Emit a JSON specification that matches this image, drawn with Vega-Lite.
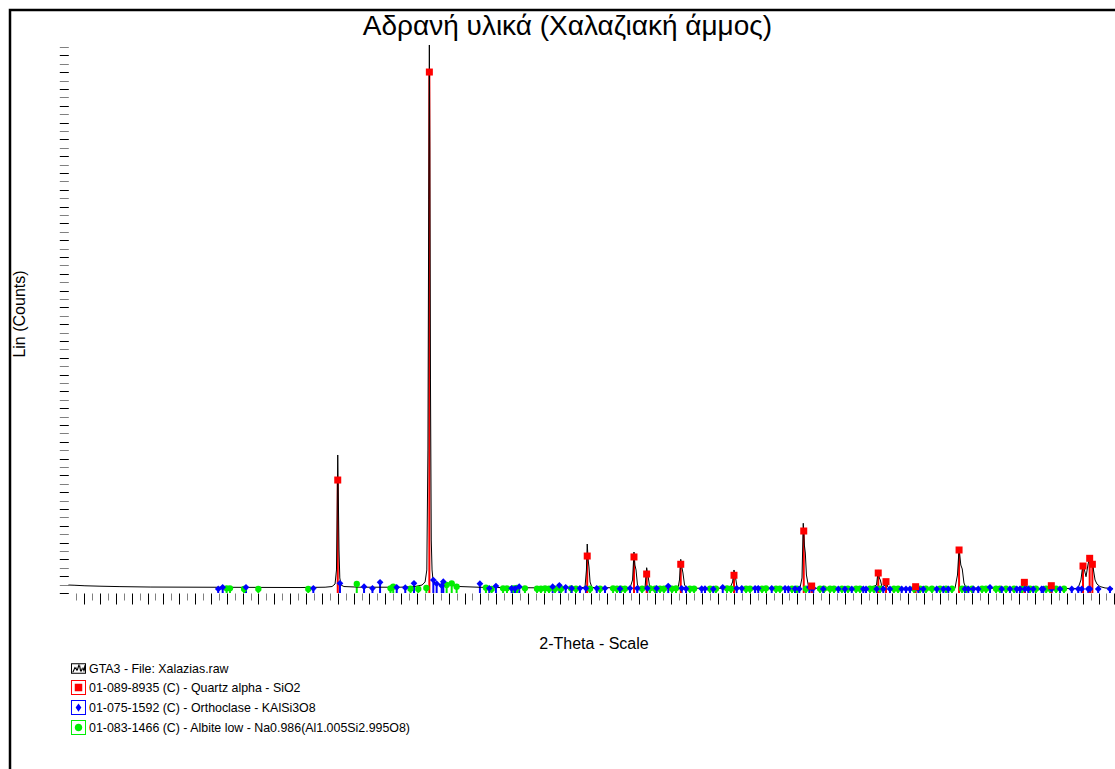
{
  "$schema": "https://vega.github.io/schema/vega-lite/v6.json",
  "width": 1115,
  "height": 770,
  "autosize": "none",
  "padding": {"left": 10, "top": 10, "right": 0, "bottom": 0},
  "background": "white",
  "title": {
    "text": "Αδρανή υλικά (Χαλαζιακή άμμος)",
    "font": "Liberation Sans",
    "fontSize": 28,
    "fontWeight": "normal",
    "color": "black",
    "anchor": "middle",
    "frame": "group",
    "baseline": "alphabetic",
    "offset": -53
  },
  "config": {
    "font": "Liberation Sans",
    "view": {"stroke": "black", "strokeWidth": 2.5}
  },
  "datasets": {
    "pattern": [
      {"theta": 4.01, "counts": 95}, {"theta": 4.42, "counts": 92}, {"theta": 5.05, "counts": 86},
      {"theta": 6.0, "counts": 81}, {"theta": 7.26, "counts": 76}, {"theta": 9.16, "counts": 71},
      {"theta": 12.31, "counts": 69}, {"theta": 15.46, "counts": 67}, {"theta": 18.62, "counts": 65},
      {"theta": 20.2, "counts": 69}, {"theta": 20.64, "counts": 77}, {"theta": 20.83, "counts": 107},
      {"theta": 20.92, "counts": 274}, {"theta": 20.97, "counts": 1107}, {"theta": 21.0, "counts": 1643},
      {"theta": 21.04, "counts": 1107}, {"theta": 21.08, "counts": 512}, {"theta": 21.13, "counts": 179},
      {"theta": 21.21, "counts": 95}, {"theta": 21.39, "counts": 77}, {"theta": 22.4, "counts": 69},
      {"theta": 24.93, "counts": 69}, {"theta": 25.87, "counts": 77}, {"theta": 26.32, "counts": 95},
      {"theta": 26.51, "counts": 131}, {"theta": 26.62, "counts": 274}, {"theta": 26.69, "counts": 1702},
      {"theta": 26.74, "counts": 4679}, {"theta": 26.78, "counts": 6524}, {"theta": 26.81, "counts": 5274},
      {"theta": 26.85, "counts": 2536}, {"theta": 26.9, "counts": 631}, {"theta": 26.95, "counts": 274},
      {"theta": 27.01, "counts": 155}, {"theta": 27.14, "counts": 119}, {"theta": 27.45, "counts": 101},
      {"theta": 27.77, "counts": 95}, {"theta": 27.96, "counts": 113}, {"theta": 28.21, "counts": 89},
      {"theta": 28.71, "counts": 77}, {"theta": 29.98, "counts": 68}, {"theta": 32.5, "counts": 63},
      {"theta": 35.02, "counts": 60}, {"theta": 36.28, "counts": 60}, {"theta": 36.6, "counts": 71},
      {"theta": 36.69, "counts": 274}, {"theta": 36.74, "counts": 583}, {"theta": 36.8, "counts": 393},
      {"theta": 36.85, "counts": 310}, {"theta": 36.92, "counts": 131}, {"theta": 37.04, "counts": 65},
      {"theta": 39.44, "counts": 60}, {"theta": 39.6, "counts": 155}, {"theta": 39.69, "counts": 488},
      {"theta": 39.75, "counts": 333}, {"theta": 39.82, "counts": 274}, {"theta": 39.91, "counts": 95},
      {"theta": 40.07, "counts": 60}, {"theta": 40.39, "counts": 71}, {"theta": 40.49, "counts": 301},
      {"theta": 40.57, "counts": 214}, {"theta": 40.67, "counts": 83}, {"theta": 40.83, "counts": 57},
      {"theta": 42.47, "counts": 60}, {"theta": 42.56, "counts": 155}, {"theta": 42.64, "counts": 401},
      {"theta": 42.72, "counts": 298}, {"theta": 42.78, "counts": 238}, {"theta": 42.88, "counts": 95},
      {"theta": 43.04, "counts": 57}, {"theta": 45.75, "counts": 56}, {"theta": 45.91, "counts": 131},
      {"theta": 46.0, "counts": 274}, {"theta": 46.1, "counts": 179}, {"theta": 46.19, "counts": 71},
      {"theta": 46.38, "counts": 56}, {"theta": 50.16, "counts": 56}, {"theta": 50.29, "counts": 179},
      {"theta": 50.37, "counts": 830}, {"theta": 50.44, "counts": 571}, {"theta": 50.5, "counts": 476},
      {"theta": 50.57, "counts": 214}, {"theta": 50.7, "counts": 77}, {"theta": 50.92, "counts": 77},
      {"theta": 51.11, "counts": 56}, {"theta": 54.58, "counts": 54}, {"theta": 54.99, "counts": 95},
      {"theta": 55.1, "counts": 274}, {"theta": 55.17, "counts": 179}, {"theta": 55.23, "counts": 155},
      {"theta": 55.34, "counts": 71}, {"theta": 55.53, "counts": 95}, {"theta": 55.62, "counts": 119},
      {"theta": 55.72, "counts": 65}, {"theta": 55.97, "counts": 54}, {"theta": 57.36, "counts": 54},
      {"theta": 57.46, "counts": 77}, {"theta": 57.61, "counts": 54}, {"theta": 59.94, "counts": 54},
      {"theta": 60.1, "counts": 214}, {"theta": 60.2, "counts": 532}, {"theta": 60.31, "counts": 333},
      {"theta": 60.4, "counts": 286}, {"theta": 60.51, "counts": 119}, {"theta": 60.64, "counts": 60},
      {"theta": 64.04, "counts": 54}, {"theta": 64.23, "counts": 95}, {"theta": 64.33, "counts": 131},
      {"theta": 64.45, "counts": 77}, {"theta": 64.68, "counts": 54}, {"theta": 65.87, "counts": 54},
      {"theta": 66.02, "counts": 87}, {"theta": 66.19, "counts": 54}, {"theta": 67.7, "counts": 54},
      {"theta": 67.89, "counts": 155}, {"theta": 68.02, "counts": 353}, {"theta": 68.11, "counts": 274},
      {"theta": 68.21, "counts": 194}, {"theta": 68.33, "counts": 333}, {"theta": 68.44, "counts": 432},
      {"theta": 68.52, "counts": 369}, {"theta": 68.61, "counts": 401}, {"theta": 68.68, "counts": 274},
      {"theta": 68.78, "counts": 155}, {"theta": 68.9, "counts": 107}, {"theta": 69.09, "counts": 77},
      {"theta": 69.41, "counts": 60}, {"theta": 69.91, "counts": 54}
    ],
    "quartz": [
      {"theta": 21.0, "counts": 1345}, {"theta": 26.78, "counts": 6202}, {"theta": 36.74, "counts": 440},
      {"theta": 39.69, "counts": 429}, {"theta": 40.49, "counts": 226}, {"theta": 42.64, "counts": 342},
      {"theta": 46.0, "counts": 211}, {"theta": 50.4, "counts": 738}, {"theta": 50.9, "counts": 83},
      {"theta": 55.1, "counts": 238}, {"theta": 55.59, "counts": 135}, {"theta": 57.46, "counts": 75},
      {"theta": 60.2, "counts": 512}, {"theta": 64.32, "counts": 127}, {"theta": 66.02, "counts": 87},
      {"theta": 68.02, "counts": 321}, {"theta": 68.44, "counts": 413}, {"theta": 68.61, "counts": 342}
    ],
    "orthoclase": [
      {"theta": 13.46, "counts": 48}, {"theta": 13.74, "counts": 68}, {"theta": 15.21, "counts": 68},
      {"theta": 19.46, "counts": 56}, {"theta": 21.14, "counts": 115}, {"theta": 22.66, "counts": 75},
      {"theta": 23.19, "counts": 56}, {"theta": 23.67, "counts": 127}, {"theta": 24.72, "counts": 68},
      {"theta": 25.26, "counts": 63}, {"theta": 25.81, "counts": 115}, {"theta": 27.03, "counts": 155},
      {"theta": 27.24, "counts": 111}, {"theta": 27.56, "counts": 87}, {"theta": 27.66, "counts": 135},
      {"theta": 29.97, "counts": 111}, {"theta": 30.56, "counts": 56}, {"theta": 30.98, "counts": 83},
      {"theta": 31.97, "counts": 56}, {"theta": 32.18, "counts": 51}, {"theta": 32.45, "counts": 75},
      {"theta": 34.56, "counts": 75}, {"theta": 34.98, "counts": 92}, {"theta": 35.38, "counts": 68},
      {"theta": 35.76, "counts": 56}, {"theta": 36.28, "counts": 56}, {"theta": 36.66, "counts": 56},
      {"theta": 37.34, "counts": 56}, {"theta": 37.86, "counts": 56}, {"theta": 38.81, "counts": 51},
      {"theta": 39.44, "counts": 56}, {"theta": 39.9, "counts": 56}, {"theta": 40.53, "counts": 56},
      {"theta": 41.12, "counts": 56}, {"theta": 41.85, "counts": 83}, {"theta": 42.7, "counts": 56},
      {"theta": 42.97, "counts": 51}, {"theta": 43.96, "counts": 51}, {"theta": 44.17, "counts": 51},
      {"theta": 44.69, "counts": 48}, {"theta": 45.29, "counts": 68}, {"theta": 46.17, "counts": 56},
      {"theta": 46.49, "counts": 56}, {"theta": 47.33, "counts": 56}, {"theta": 47.53, "counts": 56},
      {"theta": 48.38, "counts": 56}, {"theta": 49.22, "counts": 56}, {"theta": 49.43, "counts": 51},
      {"theta": 49.85, "counts": 51}, {"theta": 50.12, "counts": 48}, {"theta": 50.75, "counts": 68},
      {"theta": 50.9, "counts": 56}, {"theta": 51.0, "counts": 56}, {"theta": 51.63, "counts": 48},
      {"theta": 52.58, "counts": 48}, {"theta": 53.0, "counts": 48}, {"theta": 53.43, "counts": 48},
      {"theta": 54.16, "counts": 48}, {"theta": 54.33, "counts": 48}, {"theta": 55.0, "counts": 48},
      {"theta": 55.42, "counts": 48}, {"theta": 55.84, "counts": 48}, {"theta": 56.58, "counts": 48},
      {"theta": 56.85, "counts": 48}, {"theta": 57.1, "counts": 48}, {"theta": 57.63, "counts": 48},
      {"theta": 57.94, "counts": 48}, {"theta": 58.79, "counts": 48}, {"theta": 59.21, "counts": 48},
      {"theta": 59.52, "counts": 48}, {"theta": 60.57, "counts": 48}, {"theta": 60.78, "counts": 48},
      {"theta": 61.1, "counts": 48}, {"theta": 61.41, "counts": 48}, {"theta": 62.15, "counts": 68},
      {"theta": 62.89, "counts": 48}, {"theta": 63.41, "counts": 48}, {"theta": 63.84, "counts": 48},
      {"theta": 64.04, "counts": 48}, {"theta": 64.36, "counts": 48}, {"theta": 64.57, "counts": 48},
      {"theta": 64.88, "counts": 48}, {"theta": 65.41, "counts": 48}, {"theta": 65.51, "counts": 48},
      {"theta": 66.04, "counts": 48}, {"theta": 66.57, "counts": 48}, {"theta": 67.31, "counts": 48},
      {"theta": 67.72, "counts": 48}, {"theta": 67.94, "counts": 48}, {"theta": 68.35, "counts": 48},
      {"theta": 68.46, "counts": 48}, {"theta": 68.98, "counts": 48}, {"theta": 69.72, "counts": 48}
    ],
    "albite": [
      {"theta": 13.99, "counts": 56}, {"theta": 14.2, "counts": 56}, {"theta": 15.09, "counts": 48},
      {"theta": 15.99, "counts": 48}, {"theta": 19.14, "counts": 48}, {"theta": 22.2, "counts": 107},
      {"theta": 24.33, "counts": 56}, {"theta": 24.5, "counts": 75}, {"theta": 25.59, "counts": 51},
      {"theta": 26.08, "counts": 48}, {"theta": 26.59, "counts": 60}, {"theta": 27.87, "counts": 95},
      {"theta": 28.19, "counts": 115}, {"theta": 28.5, "counts": 75}, {"theta": 30.35, "counts": 63},
      {"theta": 30.71, "counts": 48}, {"theta": 31.43, "counts": 56}, {"theta": 31.68, "counts": 56},
      {"theta": 32.06, "counts": 56}, {"theta": 32.31, "counts": 60}, {"theta": 32.81, "counts": 56},
      {"theta": 33.57, "counts": 51}, {"theta": 33.82, "counts": 51}, {"theta": 34.08, "counts": 56},
      {"theta": 34.33, "counts": 51}, {"theta": 34.71, "counts": 51}, {"theta": 35.09, "counts": 51},
      {"theta": 35.72, "counts": 56}, {"theta": 36.03, "counts": 51}, {"theta": 36.92, "counts": 51},
      {"theta": 37.55, "counts": 51}, {"theta": 38.37, "counts": 56}, {"theta": 38.62, "counts": 51},
      {"theta": 38.87, "counts": 51}, {"theta": 39.12, "counts": 51}, {"theta": 40.2, "counts": 51},
      {"theta": 40.7, "counts": 56}, {"theta": 41.02, "counts": 51}, {"theta": 41.33, "counts": 51},
      {"theta": 41.58, "counts": 51}, {"theta": 42.09, "counts": 51}, {"theta": 42.34, "counts": 56},
      {"theta": 43.22, "counts": 51}, {"theta": 43.48, "counts": 51}, {"theta": 44.49, "counts": 51},
      {"theta": 44.86, "counts": 51}, {"theta": 45.56, "counts": 56}, {"theta": 45.81, "counts": 51},
      {"theta": 46.76, "counts": 51}, {"theta": 47.01, "counts": 51}, {"theta": 47.77, "counts": 51},
      {"theta": 48.02, "counts": 56}, {"theta": 48.65, "counts": 51}, {"theta": 48.9, "counts": 51},
      {"theta": 49.66, "counts": 51}, {"theta": 49.97, "counts": 51}, {"theta": 50.54, "counts": 51},
      {"theta": 51.43, "counts": 51}, {"theta": 51.68, "counts": 51}, {"theta": 52.06, "counts": 51},
      {"theta": 52.31, "counts": 51}, {"theta": 52.81, "counts": 51}, {"theta": 53.19, "counts": 51},
      {"theta": 53.7, "counts": 51}, {"theta": 53.95, "counts": 51}, {"theta": 54.58, "counts": 51},
      {"theta": 54.83, "counts": 51}, {"theta": 55.21, "counts": 51}, {"theta": 56.09, "counts": 51},
      {"theta": 56.35, "counts": 51}, {"theta": 57.36, "counts": 51}, {"theta": 57.74, "counts": 51},
      {"theta": 58.11, "counts": 51}, {"theta": 58.49, "counts": 51}, {"theta": 59.0, "counts": 51},
      {"theta": 59.38, "counts": 51}, {"theta": 59.75, "counts": 51}, {"theta": 60.39, "counts": 51},
      {"theta": 60.64, "counts": 51}, {"theta": 61.02, "counts": 51}, {"theta": 61.65, "counts": 51},
      {"theta": 61.9, "counts": 51}, {"theta": 62.53, "counts": 51}, {"theta": 62.78, "counts": 51},
      {"theta": 63.16, "counts": 51}, {"theta": 63.67, "counts": 51}, {"theta": 64.17, "counts": 51},
      {"theta": 64.68, "counts": 51}, {"theta": 65.05, "counts": 51}, {"theta": 65.69, "counts": 51},
      {"theta": 65.94, "counts": 51}, {"theta": 66.32, "counts": 51}, {"theta": 66.82, "counts": 51}
    ],
    "phases": [
      {"phase": "GTA3 - File: Xalazias.raw"},
      {"phase": "01-089-8935 (C) - Quartz alpha - SiO2"},
      {"phase": "01-075-1592 (C) - Orthoclase - KAlSi3O8"},
      {"phase": "01-083-1466 (C) - Albite low - Na0.986(Al1.005Si2.995O8)"}
    ]
  },
  "encoding": {
    "x": {
      "field": "theta",
      "type": "quantitative",
      "scale": {"domain": [0.322, 70.669], "nice": false, "zero": false},
      "axis": {
        "orient": "bottom",
        "offset": -187,
        "domain": false,
        "grid": false,
        "labels": false,
        "values": [4.5,5,5.5,6,6.5,7,7.5,8,8.5,9,9.5,10,10.5,11,11.5,12,12.5,13,13.5,14,14.5,15,15.5,16,16.5,17,17.5,18,18.5,19,19.5,20,20.5,21,21.5,22,22.5,23,23.5,24,24.5,25,25.5,26,26.5,27,27.5,28,28.5,29,29.5,30,30.5,31,31.5,32,32.5,33,33.5,34,34.5,35,35.5,36,36.5,37,37.5,38,38.5,39,39.5,40,40.5,41,41.5,42,42.5,43,43.5,44,44.5,45,45.5,46,46.5,47,47.5,48,48.5,49,49.5,50,50.5,51,51.5,52,52.5,53,53.5,54,54.5,55,55.5,56,56.5,57,57.5,58,58.5,59,59.5,60,60.5,61,61.5,62,62.5,63,63.5,64,64.5,65,65.5,66,66.5,67,67.5,68,68.5,69,69.5,70],
        "tickSize": {"condition": {"test": "datum.value % 1 === 0", "value": 11}, "value": 7},
        "tickColor": {"condition": {"test": "datum.value % 1 === 0", "value": "#000000"}, "value": "#808080"},
        "tickWidth": 1,
        "title": "2-Theta - Scale",
        "titleFont": "Liberation Sans",
        "titleFontSize": 16,
        "titleFontWeight": "normal",
        "titleColor": "black",
        "titleX": 583.5,
        "titleY": 55.3,
        "titleAlign": "center",
        "titleBaseline": "alphabetic"
      }
    },
    "y": {
      "field": "counts",
      "type": "quantitative",
      "scale": {"domain": [-2226.2, 6940.5], "nice": false, "zero": false},
      "axis": {
        "orient": "left",
        "offset": -58.3,
        "domain": false,
        "grid": false,
        "labels": false,
        "values": [0,100,200,300,400,500,600,700,800,900,1000,1100,1200,1300,1400,1500,1600,1700,1800,1900,2000,2100,2200,2300,2400,2500,2600,2700,2800,2900,3000,3100,3200,3300,3400,3500,3600,3700,3800,3900,4000,4100,4200,4300,4400,4500,4600,4700,4800,4900,5000,5100,5200,5300,5400,5500,5600,5700,5800,5900,6000,6100,6200,6300,6400,6500],
        "tickSize": 9,
        "tickColor": {"condition": {"test": "datum.value % 200 === 0", "value": "#000000"}, "value": "#808080"},
        "tickWidth": 1,
        "title": "Lin (Counts)",
        "titleFont": "Liberation Sans",
        "titleFontSize": 16,
        "titleFontWeight": "normal",
        "titleColor": "black",
        "titleAngle": -90,
        "titleX": -43.8,
        "titleY": 303.5,
        "titleAlign": "center",
        "titleBaseline": "alphabetic"
      }
    }
  },
  "layer": [
    {
      "data": {"name": "albite"},
      "mark": {"type": "rule", "color": "#00ee00", "strokeWidth": 2},
      "encoding": {"y2": {"datum": 0}}
    },
    {
      "data": {"name": "orthoclase"},
      "mark": {"type": "rule", "color": "#0000ff", "strokeWidth": 2},
      "encoding": {"y2": {"datum": 0}}
    },
    {
      "data": {"name": "quartz"},
      "mark": {"type": "rule", "color": "#ff0000", "strokeWidth": 2},
      "encoding": {"y2": {"datum": 0}}
    },
    {
      "data": {"name": "pattern"},
      "mark": {"type": "line", "color": "black", "strokeWidth": 1}
    },
    {
      "data": {"name": "albite"},
      "mark": {"type": "point", "shape": "circle", "filled": true, "color": "#00ee00", "size": 40, "opacity": 1}
    },
    {
      "data": {"name": "orthoclase"},
      "mark": {"type": "point", "shape": "diamond", "filled": true, "color": "#0000ff", "size": 45, "opacity": 1}
    },
    {
      "data": {"name": "quartz"},
      "mark": {"type": "point", "shape": "square", "filled": true, "color": "#ff0000", "size": 49, "opacity": 1}
    },
    {
      "data": {"values": [{}]},
      "mark": {"type": "rule", "color": "black", "strokeWidth": 1},
      "encoding": {"x": {"datum": 4}, "x2": {"datum": 70}, "y": {"datum": 0}}
    },
    {
      "data": {"values": [{}]},
      "mark": {"type": "rule", "color": "black", "strokeWidth": 1.2},
      "encoding": {"x": {"datum": 4}, "y": {"datum": 0}, "y2": {"datum": 6524}}
    },
    {
      "data": {"values": [{}]},
      "mark": {"type": "point", "shape": "triangle-up", "filled": true, "color": "black", "size": 22, "opacity": 1},
      "encoding": {"x": {"datum": 4.1}, "y": {"datum": 6480}}
    },
    {
      "data": {"name": "phases"},
      "mark": {"type": "point", "filled": true, "opacity": 1, "strokeWidth": 0},
      "encoding": {
        "color": {
          "field": "phase",
          "type": "nominal",
          "scale": {
            "domain": ["GTA3 - File: Xalazias.raw", "01-089-8935 (C) - Quartz alpha - SiO2", "01-075-1592 (C) - Orthoclase - KAlSi3O8", "01-083-1466 (C) - Albite low - Na0.986(Al1.005Si2.995O8)"],
            "range": ["#000000", "#ff0000", "#0000ff", "#00ee00"]
          },
          "legend": {
            "title": null,
            "orient": "none",
            "legendX": 61,
            "legendY": 651,
            "symbolSize": 225,
            "symbolStrokeWidth": 0,
            "symbolOpacity": 1,
            "labelFont": "Liberation Sans",
            "labelFontSize": 12.4,
            "labelColor": "black",
            "labelOffset": 3,
            "labelLimit": 0,
            "rowPadding": 5,
            "padding": 0
          }
        },
        "shape": {
          "field": "phase",
          "type": "nominal",
          "scale": {
            "domain": ["GTA3 - File: Xalazias.raw", "01-089-8935 (C) - Quartz alpha - SiO2", "01-075-1592 (C) - Orthoclase - KAlSi3O8", "01-083-1466 (C) - Albite low - Na0.986(Al1.005Si2.995O8)"],
            "range": [
              "M-1,-0.7H1V0.7H-1ZM-0.87,-0.57V0.57H0.87V-0.57ZM-0.83,0.49L-0.49,-0.28L-0.28,0.36L0.02,-0.62L0.23,0.49L0.49,-0.19L0.66,0.49L0.78,-0.45L0.92,-0.45L0.82,0.49L0.65,-0.19L0.39,0.49L0.18,-0.62L-0.12,0.36L-0.33,-0.28L-0.67,0.49Z",
              "M-1,-1H1V1H-1ZM-0.87,-0.87V0.87H0.87V-0.87ZM-0.5,-0.5H0.5V0.5H-0.5Z",
              "M-1,-1H1V1H-1ZM-0.87,-0.87V0.87H0.87V-0.87ZM0,-0.55L0.38,0L0,0.55L-0.38,0Z",
              "M-1,-1H1V1H-1ZM-0.87,-0.87V0.87H0.87V-0.87ZM0.5,0A0.5,0.5,0,1,1,-0.5,0A0.5,0.5,0,1,1,0.5,0Z"
            ]
          },
          "legend": {
            "title": null,
            "orient": "none",
            "legendX": 61,
            "legendY": 651,
            "symbolSize": 225,
            "symbolStrokeWidth": 0,
            "symbolOpacity": 1,
            "labelFont": "Liberation Sans",
            "labelFontSize": 12.4,
            "labelColor": "black",
            "labelOffset": 3,
            "labelLimit": 0,
            "rowPadding": 5,
            "padding": 0
          }
        }
      }
    }
  ]
}
